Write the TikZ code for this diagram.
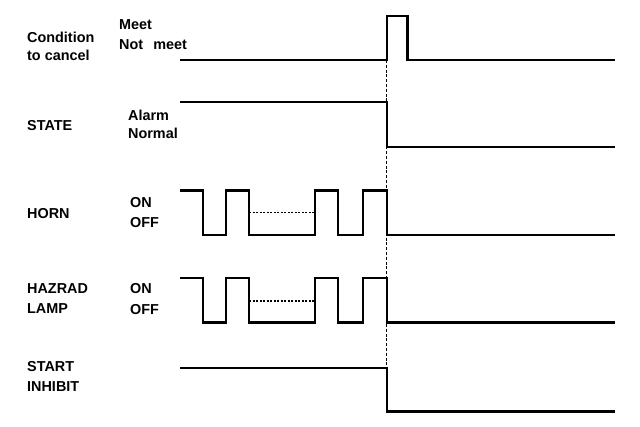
\documentclass[tikz,border=0pt]{standalone}
\usepackage{fontspec}
\setmainfont{Liberation Sans}
\begin{document}
\begin{tikzpicture}[x=1pt,y=-1pt,
  lbl/.style={anchor=base west,inner sep=0pt,font=\fontsize{14.4}{16}\selectfont\bfseries},
  wave/.style={line width=2.2pt,line join=miter},
  guide/.style={line width=1.4pt,dash pattern=on 3pt off 1.8pt},
  hold/.style={line width=1.3pt,dash pattern=on 2pt off 1.5pt}]
\useasboundingbox (0,0) rectangle (640,426);
% labels
\node[lbl] (c1) at (27,42.7) {Condition};
\node[lbl] (c2) at (27,60) {to cancel};
\node[lbl] (meet) at (119,29.3) {Meet};
\node[lbl] (notmeet) at (119,49.3) {Not\hspace{0.7em}meet};
\node[lbl] (state) at (27,130) {STATE};
\node[lbl] (alarm) at (128,120) {Alarm};
\node[lbl] (normal) at (128,138) {Normal};
\node[lbl] (horn) at (27,218.3) {HORN};
\node[lbl] (hon) at (130,207) {ON};
\node[lbl] (hoff) at (130,227) {OFF};
\node[lbl] (haz) at (27,293) {HAZRAD};
\node[lbl] (lamp) at (27,313) {LAMP};
\node[lbl] (lon) at (130,293) {ON};
\node[lbl] (loff) at (130,314) {OFF};
\node[lbl] (start) at (27,371.7) {START};
\node[lbl] (inh) at (27,391.7) {INHIBIT};
% guide line
\draw[guide] (386.7,60) -- (386.7,411);
% condition to cancel
\draw[wave] (180,60) -- (387,60) -- (387,16) -- (407.5,16) -- (407.5,60) -- (615,60);
% state
\draw[wave] (180,102) -- (387,102) -- (387,147) -- (615,147);
% horn
\draw[wave] (180,190.5) -- (202.7,190.5) -- (202.7,235) -- (226,235) -- (226,190.5)
  -- (249.3,190.5) -- (249.3,235) -- (315,235) -- (315,190.5) -- (337.7,190.5)
  -- (337.7,235) -- (362.7,235) -- (362.7,190.5) -- (387,190.5) -- (387,235) -- (615,235);
\draw[hold] (249.3,212.5) -- (315,212.5);
% hazard lamp
\draw[wave] (180,278) -- (202.7,278) -- (202.7,322.5) -- (226,322.5) -- (226,278)
  -- (249.3,278) -- (249.3,322.5) -- (315,322.5) -- (315,278) -- (337.7,278)
  -- (337.7,322.5) -- (362.7,322.5) -- (362.7,278) -- (387,278) -- (387,322.5) -- (615,322.5);
\draw[hold] (249.3,301) -- (315,301);
% start inhibit
\draw[wave] (180,368) -- (387,368) -- (387,411.5) -- (615,411.5);
\end{tikzpicture}
\end{document}
